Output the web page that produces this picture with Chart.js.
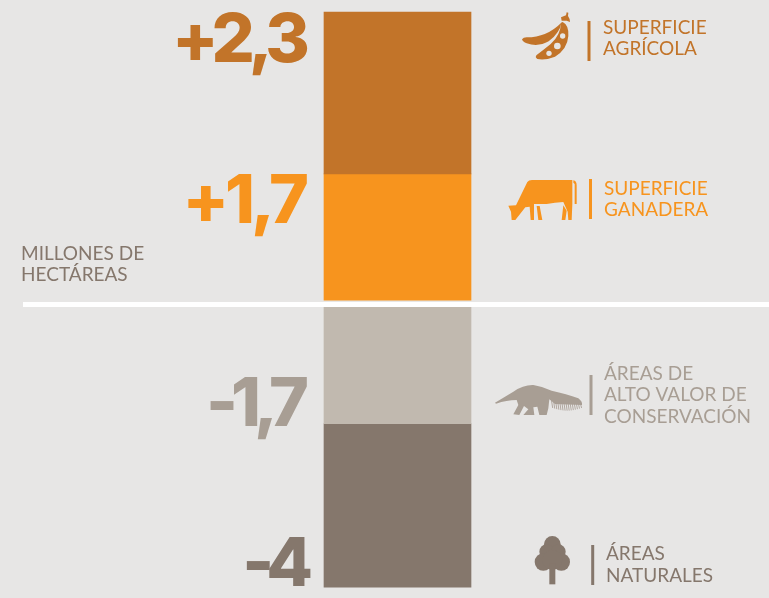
<!DOCTYPE html>
<html lang="es">
<head>
<meta charset="utf-8">
<title>Millones de hectáreas</title>
<script src="https://cdn.jsdelivr.net/npm/chart.js@4"></script>
<style>
html,body{margin:0;padding:0;background:#E7E6E5;overflow:hidden}
canvas{display:block}
</style>
</head>
<body>
<canvas id="c" width="769" height="598"></canvas>
<script>
const categories = ["Cambio"];
const seriesNames = ["Superficie agrícola", "Superficie ganadera", "Áreas de alto valor de conservación", "Áreas naturales"];
const valueLabels = ["+2,3", "+1,7", "-1,7", "-4"];
const segmentStart = [1.84, 0.06, -0.04, -1.68];
const segmentEnd = [4.12, 1.84, -1.68, -3.98];
const seriesColors = ["#C27429", "#F7941E", "#C1B9AF", "#85776C"];
const textColors = ["#C27429", "#F7941E", "#A89E94", "#85776C"];
const seriesText = [["SUPERFICIE", "AGRÍCOLA"], ["SUPERFICIE", "GANADERA"], ["ÁREAS DE", "ALTO VALOR DE", "CONSERVACIÓN"], ["ÁREAS", "NATURALES"]];
const unitText = ["MILLONES DE", "HECTÁREAS"];

const BG = "#E7E6E5";
const numberBaselines = [62, 223, 426, 586];
const numberRight = [304, 305, 302, 305];
const numberSpacing = ["-6px", "-4px", "-7px", "-8px"];
const textLeft = [603, 604, 604, 606];
const textBaselines = [[34, 55], [195, 216], [380, 401, 423], [560, 582]];
const dividers = [[589, 21, 61], [590.5, 179, 219], [591, 375, 415], [592.7, 545, 585]];

function drawIcons(ctx) {
  // pea pods
  ctx.save(); ctx.translate(500, 0); ctx.scale(1 / 3, 1 / 3);
  ctx.fillStyle = textColors[0];
  ctx.fill(new Path2D("M66 118 Q70 112 80 112 Q140 112 184 68 Q180 98 146 124 Q115 142 80 130 Q68 126 66 118Z"));
  ctx.fill(new Path2D("M188 66 Q207 75 205 108 Q202 148 165 170 Q135 182 112 177 Q104 172 110 165 Q130 150 152 132 Q182 105 183 68Z"));
  ctx.fill(new Path2D("M183 52 L198 46 L200 37 L205 38 L204 48 Q210 56 210 66 L200 62 L185 62Z"));
  ctx.fillStyle = BG;
  [[188, 108, 8], [172, 138, 10], [147, 160, 8]].forEach(c => { ctx.beginPath(); ctx.arc(c[0], c[1], c[2], 0, 7); ctx.fill(); });
  ctx.restore();
  // cow
  ctx.save(); ctx.translate(500, 0); ctx.scale(1 / 3, 1 / 3);
  ctx.fillStyle = textColors[1];
  ctx.fill(new Path2D("M25 617 L48 616 L82 546 Q86 540 96 540 L217 540 L217 612 L215 660 L205 660 L203 635 L190 606 Q165 608 140 612 L102 612 L102 660 L92 660 L89 620 L76 622 L46 660 L35 660 L33 635Z"));
  ctx.fill(new Path2D("M110 618 L119 618 L127 660 L115 660Z M190 616 L200 632 L196 660 L185 660Z"));
  ctx.fill(new Path2D("M220 541 Q230 543 230 556 L230 612 L224 612 L224 552 L220 548Z"));
  ctx.restore();
  // anteater
  ctx.save(); ctx.translate(480, 350); ctx.scale(1 / 3, 1 / 3);
  ctx.fillStyle = textColors[2];
  ctx.fill(new Path2D("M45 158 Q75 140 100 125 Q130 104 160 105 Q190 110 215 122 Q260 132 295 145 Q308 155 306 165 L225 162 L208 148 L205 175 L200 195 L178 195 L172 170 L160 172 L163 195 L130 195 L145 178 L132 168 L118 195 L100 193 L115 165 L110 150 Q80 150 48 161Z"));
  ctx.strokeStyle = textColors[2]; ctx.lineWidth = 2.6;
  const fur = new Path2D();
  for (let i = 0; i < 15; i++) { const x = 214 + i * 6.2; fur.moveTo(x, 148 + i * 0.8); fur.lineTo(x + 4, 172 + 10 * Math.sin((i + 1) / 16 * Math.PI)); }
  ctx.stroke(fur);
  ctx.restore();
  // tree
  ctx.save(); ctx.translate(480, 350); ctx.scale(1 / 3, 1 / 3);
  ctx.fillStyle = textColors[3];
  [[217, 583, 25], [200, 605, 22], [235, 605, 22], [190, 636, 26], [244, 636, 26], [217, 630, 30]].forEach(c => { ctx.beginPath(); ctx.arc(c[0], c[1], c[2], 0, 7); ctx.fill(); });
  ctx.fillRect(208, 640, 18, 63);
  ctx.restore();
}

const overlay = {
  id: "overlay",
  beforeDatasetsDraw(chart) {
    const ctx = chart.ctx, y0 = chart.scales.y.getPixelForValue(0);
    ctx.save();
    ctx.fillStyle = "#FFFFFF";
    ctx.fillRect(23, y0 - 2.5, 746, 5);
    ctx.restore();
  },
  afterDatasetsDraw(chart) {
    const ctx = chart.ctx;
    ctx.save();
    ctx.textBaseline = "alphabetic";
    valueLabels.forEach((t, i) => {
      ctx.font = "800 68px Inter";
      ctx.letterSpacing = numberSpacing[i];
      ctx.textAlign = "right";
      ctx.fillStyle = textColors[i];
      ctx.fillText(t, numberRight[i], numberBaselines[i]);
    });
    ctx.letterSpacing = "0px";
    ctx.textAlign = "left";
    ctx.font = "400 19px Lato";
    seriesText.forEach((lines, i) => {
      ctx.fillStyle = textColors[i];
      lines.forEach((l, k) => ctx.fillText(l, textLeft[i], textBaselines[i][k]));
      const d = dividers[i];
      ctx.fillRect(d[0] - 1.5, d[1], 3, d[2] - d[1]);
    });
    ctx.fillStyle = textColors[3];
    unitText.forEach((l, k) => ctx.fillText(l, 21, 260 + k * 21));
    drawIcons(ctx);
    ctx.restore();
  }
};

new Chart(document.getElementById("c"), {
  type: "bar",
  data: {
    labels: categories,
    datasets: seriesNames.map((n, i) => ({
      label: n,
      data: [[segmentStart[i], segmentEnd[i]]],
      backgroundColor: seriesColors[i],
      borderWidth: 0,
      barThickness: 147
    }))
  },
  options: {
    responsive: false,
    animation: false,
    layout: { padding: { left: 26, right: 0, top: 0, bottom: 0 } },
    plugins: { legend: { display: false }, tooltip: { enabled: false } },
    scales: {
      x: { display: false, stacked: true },
      y: { display: false, stacked: false, min: -4.134, max: 4.289 }
    }
  },
  plugins: [overlay]
});
</script>
</body>
</html>
